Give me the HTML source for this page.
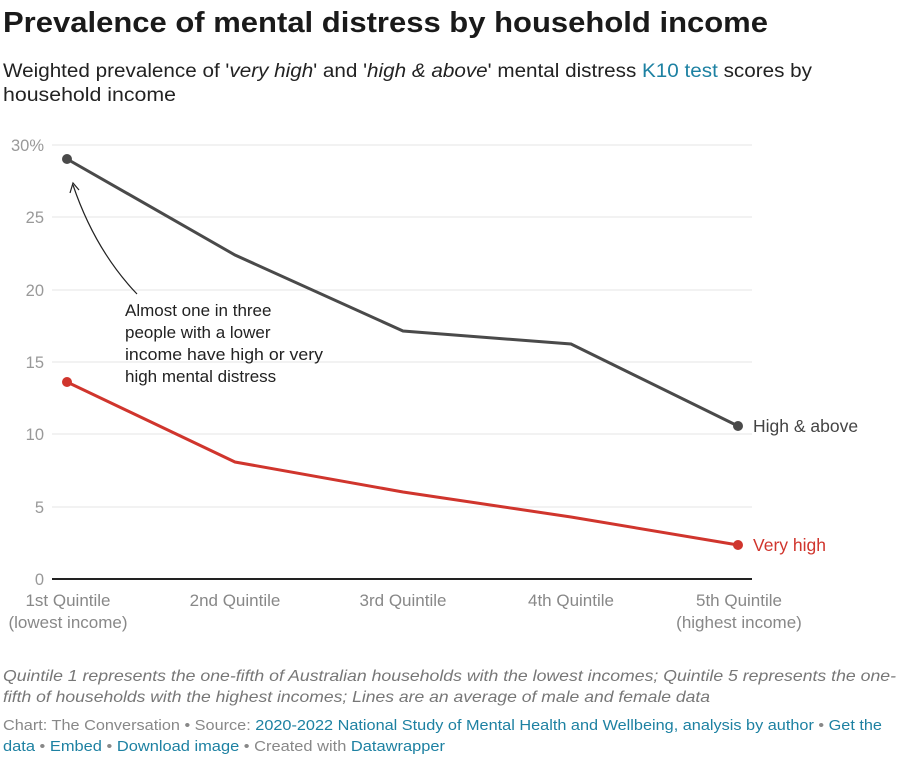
<!DOCTYPE html>
<html><head><meta charset="utf-8"><style>
html,body{margin:0;padding:0;background:#fff;}
svg{display:block;font-family:"Liberation Sans",sans-serif;}
</style></head><body>
<svg width="910" height="763" viewBox="0 0 910 763" xmlns="http://www.w3.org/2000/svg">
<text x="3" y="32" font-size="29" font-weight="bold" fill="#1a1a1a" textLength="765" lengthAdjust="spacingAndGlyphs">Prevalence of mental distress by household income</text>
<text x="3" y="77" font-size="19" fill="#222" textLength="809" lengthAdjust="spacingAndGlyphs">Weighted prevalence of '<tspan font-style="italic">very high</tspan>' and '<tspan font-style="italic">high &amp; above</tspan>' mental distress <tspan fill="#1d81a2">K10 test</tspan> scores by</text>
<text x="3" y="101" font-size="19" fill="#222" textLength="173" lengthAdjust="spacingAndGlyphs">household income</text>
<g stroke="#e4e4e4" stroke-width="1">
<line x1="52" y1="145" x2="752" y2="145"/><line x1="52" y1="217" x2="752" y2="217"/><line x1="52" y1="290" x2="752" y2="290"/><line x1="52" y1="362" x2="752" y2="362"/><line x1="52" y1="434" x2="752" y2="434"/><line x1="52" y1="507" x2="752" y2="507"/>
</g>
<line x1="52" y1="579" x2="752" y2="579" stroke="#222" stroke-width="2"/>
<g font-size="16.5" fill="#999" text-anchor="end">
<text x="44" y="151">30%</text><text x="44" y="223">25</text><text x="44" y="296">20</text><text x="44" y="368">15</text><text x="44" y="440">10</text><text x="44" y="513">5</text><text x="44" y="585">0</text>
</g>
<g font-size="17" fill="#888" text-anchor="middle">
<text x="68" y="606">1st Quintile</text><text x="68" y="628">(lowest income)</text>
<text x="235" y="606">2nd Quintile</text><text x="403" y="606">3rd Quintile</text><text x="571" y="606">4th Quintile</text>
<text x="739" y="606">5th Quintile</text><text x="739" y="628">(highest income)</text>
</g>
<polyline points="67,159 235,255 403,331 571,344 738,426" fill="none" stroke="#4a4a4a" stroke-width="3"/>
<polyline points="67,382 235,462 403,492 571,517 738,545" fill="none" stroke="#d0352d" stroke-width="3"/>
<circle cx="67" cy="159" r="5" fill="#4a4a4a"/><circle cx="738" cy="426" r="5" fill="#4a4a4a"/>
<circle cx="67" cy="382" r="5" fill="#d0352d"/><circle cx="738" cy="545" r="5" fill="#d0352d"/>
<text x="753" y="432" font-size="17.5" fill="#444">High &amp; above</text>
<text x="753" y="551" font-size="17.5" fill="#d0352d">Very high</text>
<path d="M137,294 Q95,250 73,185" fill="none" stroke="#222" stroke-width="1.2"/>
<path d="M70,193 L73,183 L79,190" fill="none" stroke="#222" stroke-width="1.2"/>
<g font-size="17" fill="#222">
<text x="125" y="316">Almost one in three</text><text x="125" y="338">people with a lower</text><text x="125" y="360" textLength="198" lengthAdjust="spacingAndGlyphs">income have high or very</text><text x="125" y="382">high mental distress</text>
</g>
<g font-family="'Liberation Sans Narrow','Liberation Sans',sans-serif">
<text x="3" y="681" font-size="16" font-style="italic" fill="#777" textLength="893" lengthAdjust="spacingAndGlyphs">Quintile 1 represents the one-fifth of Australian households with the lowest incomes; Quintile 5 represents the one-</text>
<text x="3" y="702" font-size="16" font-style="italic" fill="#777" textLength="707" lengthAdjust="spacingAndGlyphs">fifth of households with the highest incomes; Lines are an average of male and female data</text>
<text x="3" y="730" font-size="15" fill="#888" textLength="879" lengthAdjust="spacingAndGlyphs">Chart: The Conversation • Source: <tspan fill="#1d81a2">2020-2022 National Study of Mental Health and Wellbeing, analysis by author</tspan> • <tspan fill="#1d81a2">Get the</tspan></text>
<text x="3" y="751" font-size="15" fill="#888" textLength="442" lengthAdjust="spacingAndGlyphs"><tspan fill="#1d81a2">data</tspan> • <tspan fill="#1d81a2">Embed</tspan>  • <tspan fill="#1d81a2">Download image</tspan> • Created with <tspan fill="#1d81a2">Datawrapper</tspan></text>
</g>
</svg>
</body></html>
